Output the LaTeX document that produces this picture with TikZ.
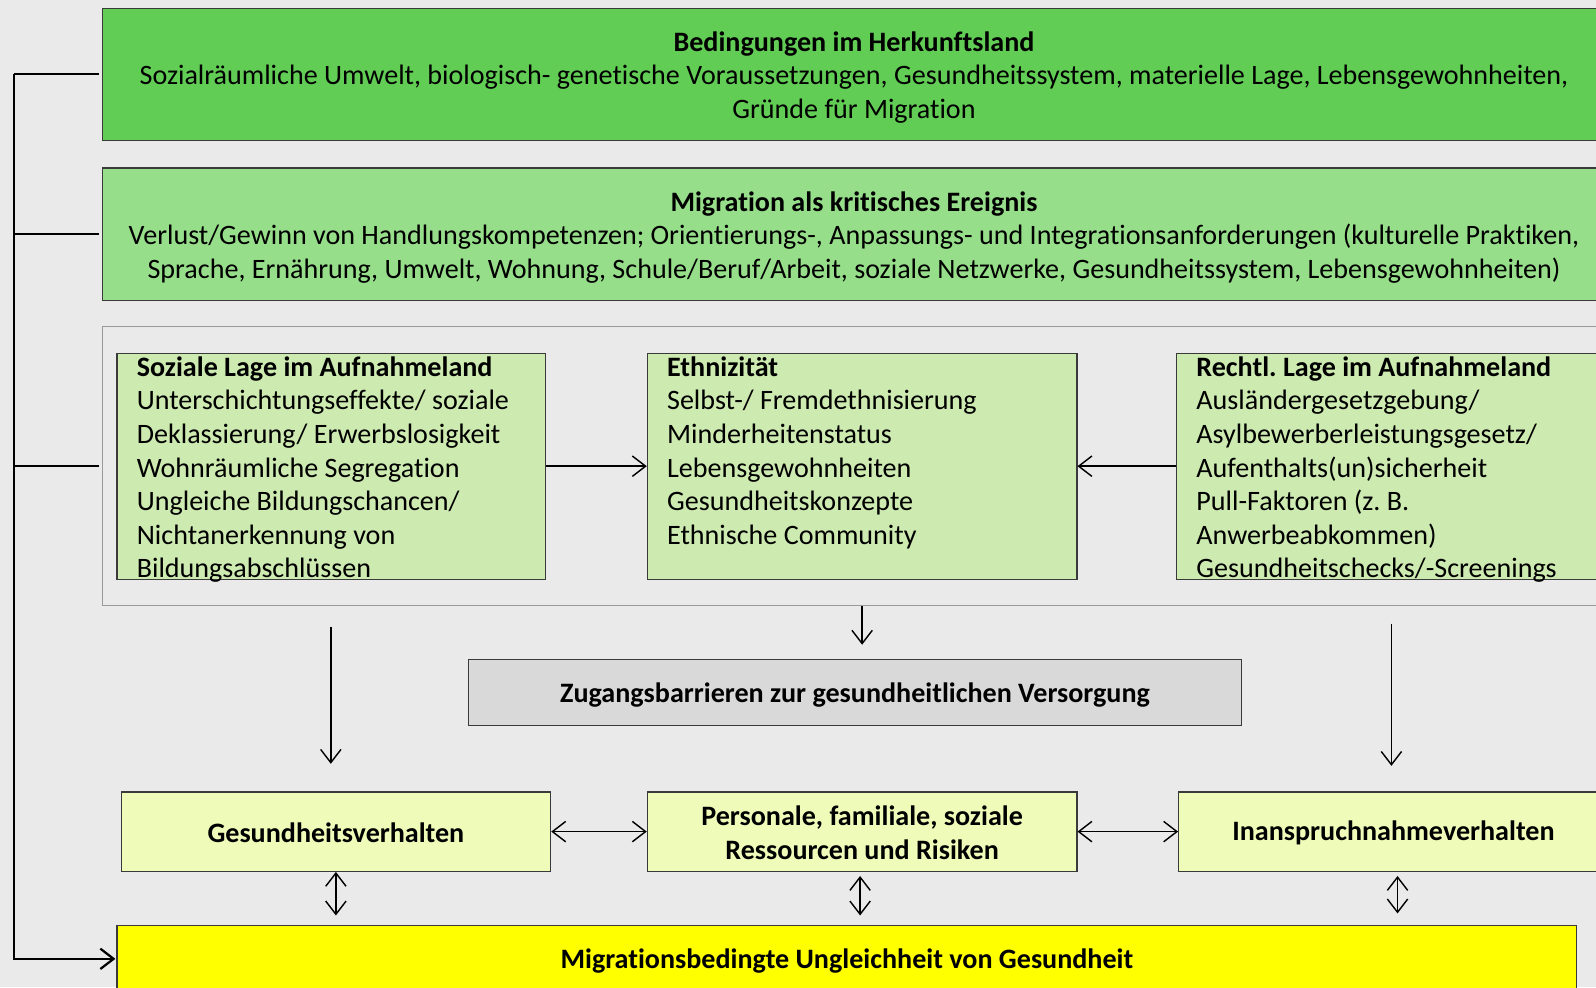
\documentclass[tikz,border=0pt]{standalone}
\usepackage{fontspec}
\setmainfont{Carlito}[RawFeature={-liga;-clig}]
\usetikzlibrary{arrows.meta}
\frenchspacing
\definecolor{bgc}{HTML}{EAEAEA}
\definecolor{cA}{HTML}{62CD55}
\definecolor{cB}{HTML}{97DE8A}
\definecolor{cIn}{HTML}{CDEAB0}
\definecolor{cBot}{HTML}{EFFBB8}
\definecolor{cZ}{HTML}{D9D9D9}
\definecolor{cY}{HTML}{FFFF00}
\definecolor{bord}{HTML}{3A3A3A}
\definecolor{cbord}{HTML}{9A9A9A}
\tikzset{
  box/.style={draw=bord, line width=0.6pt, inner sep=0pt},
  txt/.style={inner sep=0pt, font=\fontsize{13.8}{16.5}\selectfont},
  ltxt/.style={txt, align=left, anchor=north west},
  ctxt/.style={txt, align=center},
  arr/.style={line width=0.7pt, -{Straight Barb[length=6.5pt,width=10pt]}},
  darr/.style={line width=0.7pt, {Straight Barb[length=6.5pt,width=10pt]}-{Straight Barb[length=6.5pt,width=10pt]}},
  brk/.style={line width=1.1pt}
}
\begin{document}
\begin{tikzpicture}[x=0.5pt,y=-0.5pt]
\useasboundingbox (0,0) rectangle (1568,970);
\clip (0,0) rectangle (1568,970);
\fill[bgc] (0,0) rectangle (1568,970);

% top boxes
\node[box, fill=cA, minimum width=738pt, minimum height=65pt] (A) at (839,73) {};
\node[ctxt] (At) at (839,76) {\textbf{Bedingungen im Herkunftsland}\\Sozialräumliche Umwelt, biologisch- genetische Voraussetzungen, Gesundheitssystem, materielle Lage, Lebensgewohnheiten,\\Gründe für Migration};
\node[box, fill=cB, minimum width=738pt, minimum height=65pt] (B) at (839,230) {};
\node[ctxt] (Bt) at (839,233) {\textbf{Migration als kritisches Ereignis}\\Verlust/Gewinn von Handlungskompetenzen; Orientierungs-, Anpassungs- und Integrationsanforderungen (kulturelle Praktiken,\\Sprache, Ernährung, Umwelt, Wohnung, Schule/Beruf/Arbeit, soziale Netzwerke, Gesundheitssystem, Lebensgewohnheiten)};

% container
\node[draw=cbord, line width=0.6pt, inner sep=0pt, minimum width=738pt, minimum height=137pt] (C) at (839,458) {};

% inner boxes
\node[box, fill=cIn, minimum width=210.5pt, minimum height=111pt] (S) at (325.5,458) {};
\node[ltxt] (St) at (134,350) {\textbf{Soziale Lage im Aufnahmeland}\\Unterschichtungseffekte/ soziale\\Deklassierung/ Erwerbslosigkeit\\Wohnräumliche Segregation\\Ungleiche Bildungschancen/\\Nichtanerkennung von\\Bildungsabschlüssen};
\node[box, fill=cIn, minimum width=211pt, minimum height=111pt] (E) at (847,458) {};
\node[ltxt] (Et) at (655,350) {\textbf{Ethnizität}\\Selbst-/ Fremdethnisierung\\Minderheitenstatus\\Lebensgewohnheiten\\Gesundheitskonzepte\\Ethnische Community};
\node[box, fill=cIn, minimum width=211pt, minimum height=111pt] (R) at (1367,458) {};
\node[ltxt] (Rt) at (1175,350) {\textbf{Rechtl. Lage im Aufnahmeland}\\Ausländergesetzgebung/\\Asylbewerberleistungsgesetz/\\Aufenthalts(un)sicherheit\\Pull-Faktoren (z. B.\\Anwerbeabkommen)\\Gesundheitschecks/-Screenings};

% Zugangsbarrieren
\node[box, fill=cZ, minimum width=380pt, minimum height=32.5pt] (Z) at (840,680.5) {};
\node[ctxt] (Zt) at (840,683) {\textbf{Zugangsbarrieren zur gesundheitlichen Versorgung}};

% bottom row
\node[box, fill=cBot, minimum width=211pt, minimum height=39pt] (G) at (330,817) {};
\node[ctxt] (Gt) at (330,818.5) {\textbf{Gesundheitsverhalten}};
\node[box, fill=cBot, minimum width=211pt, minimum height=39pt] (P) at (847,817) {};
\node[ctxt] (Pt) at (847,818) {\textbf{Personale, familiale, soziale}\\\textbf{Ressourcen und Risiken}};
\node[box, fill=cBot, minimum width=211pt, minimum height=39pt] (I) at (1369,817) {};
\node[ctxt] (It) at (1369,818.5) {\textbf{Inanspruchnahmeverhalten}};

% result
\node[box, fill=cY, minimum width=717pt, minimum height=33pt] (Y) at (832,942) {};
\node[ctxt] (Yt) at (832,944) {\textbf{Migrationsbedingte Ungleichheit von Gesundheit}};

% horizontal arrows in container
\draw[arr] (S) -- (E);
\draw[arr] (R) -- (E);

% vertical arrows
\coordinate (xz) at (847,0);
\coordinate (xl) at (325,0);
\coordinate (xr) at (1367,0);
\draw[arr, shorten >=7pt] (C.south -| xz) -- (Z.north -| xz);
\draw[arr, shorten <=10pt, shorten >=13.5pt] (C.south -| xl) -- (G.north -| xl);
\draw[arr, shorten <=8.5pt, shorten >=12.5pt] (C.south -| xr) -- (I.north -| xr);

% bottom double arrows
\draw[darr] (G) -- (P);
\draw[darr] (P) -- (I);
\coordinate (xg) at (330,0);
\coordinate (xp) at (845,0);
\coordinate (xi) at (1373,0);
\draw[darr, shorten >=4.5pt] (G.south -| xg) -- (Y.north -| xg);
\draw[darr, shorten <=2pt, shorten >=4.5pt] (P.south -| xp) -- (Y.north -| xp);
\draw[darr, shorten <=2pt, shorten >=5.5pt] (I.south -| xi) -- (Y.north -| xi);

% left bracket
\coordinate (L) at (14,73);
\draw[brk] ([xshift=-1.5pt]A.west) -- (L);
\draw[brk, -{Straight Barb[length=6.5pt,width=10pt]}, shorten >=0.5pt] (L) |- (Y.west);
\draw[brk] ([xshift=-1.5pt]B.west) -- (B.west -| L);
\draw[brk] ([xshift=-1.5pt]C.west) -- (C.west -| L);
\end{tikzpicture}
\end{document}
